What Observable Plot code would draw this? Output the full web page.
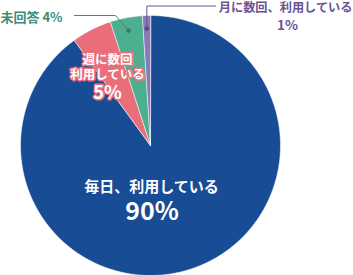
<!DOCTYPE html>
<html><head><meta charset="utf-8">
<script src="https://cdn.jsdelivr.net/npm/d3@7"></script>
<script src="https://cdn.jsdelivr.net/npm/@observablehq/plot@0.6"></script>
<style>body{margin:0;background:#fff} svg{display:block}</style>
</head><body><div id="chart"></div>
<script>
const categories = ["毎日、利用している", "週に数回利用している", "未回答", "月に数回、利用している"];
const values = [90, 5, 4, 1];
const labelLines = [["毎日、利用している"], ["週に数回", "利用している"], ["未回答"], ["月に数回、利用している"]];
const pctLabels = values.map(v => v + "%");

const colors = ["#184c94", "#ea6d7a", "#4daf8f", "#8a79bb"];
const W = 353, H = 275, CX = 150, CY = 145, R = 130;

const pie = d3.pie().sort(null).value(d => d.value);
const arcs = pie(categories.map((c, i) => ({category: c, value: values[i]})));
const polys = [];
arcs.forEach(a => {
  const n = Math.max(3, Math.ceil((a.endAngle - a.startAngle) / 0.01));
  polys.push({category: a.data.category, x: CX, y: CY});
  for (let k = 0; k <= n; k++) {
    const t = a.startAngle + (a.endAngle - a.startAngle) * k / n;
    polys.push({category: a.data.category, x: CX + R * Math.sin(t), y: CY - R * Math.cos(t)});
  }
});
const mid = a => (a.startAngle + a.endAngle) / 2;
const at = (a, f) => ({x: CX + f * R * Math.sin(mid(a)), y: CY - f * R * Math.cos(mid(a))});

// leader dots for small slices
const greenDot = at(arcs[2], 0.9);
const purpleDot = at(arcs[3], 0.9);
const greenLeader = [{x: 74, y: 15}, {x: 115, y: 15}, greenDot];
const purpleLeader = [{x: 215, y: 5.5}, {x: purpleDot.x, y: 5.5}, purpleDot];

const font = "'Noto Sans CJK JP', 'Noto Sans', sans-serif";
const blueTexts = [
  {t: labelLines[0][0], x: 151, y: 186.5},
];
const bluePct = [{t: pctLabels[0], x: 151.5, y: 211}];
const pinkTexts = [
  {t: labelLines[1][0], x: 107, y: 59},
  {t: labelLines[1][1], x: 107, y: 74.5},
];
const pinkPct = [{t: pctLabels[1], x: 107, y: 93}];

const plot = Plot.plot({
  width: W, height: H, margin: 0,
  style: {fontFamily: font, background: "#fff"},
  x: {domain: [0, W], range: [0, W], axis: null},
  y: {domain: [0, H], range: [0, H], axis: null},
  color: {domain: categories, range: colors},
  marks: [
    Plot.line(polys, {x: "x", y: "y", z: "category", fill: "category", stroke: "#ffffff", strokeWidth: 0.7, strokeOpacity: 0.8, curve: "linear-closed"}),
    Plot.line(greenLeader, {x: "x", y: "y", stroke: "#3f8e77", strokeWidth: 1}),
    Plot.line(purpleLeader, {x: "x", y: "y", stroke: "#6c5294", strokeWidth: 1}),
    Plot.dot([greenDot], {x: "x", y: "y", r: 2.4, fill: "#357f6a"}),
    Plot.dot([purpleDot], {x: "x", y: "y", r: 2.4, fill: "#5f4787"}),
    Plot.text(blueTexts, {x: "x", y: "y", text: "t", fill: "#fff", fontSize: 15, fontWeight: "bold"}),
    Plot.text(bluePct, {x: "x", y: "y", text: "t", fill: "#fff", fontSize: 25, fontWeight: "bold"}),
    Plot.text(pinkTexts, {x: "x", y: "y", text: "t", fill: "#fff", stroke: "#e9707c", strokeWidth: 3, fontSize: 12.5, fontWeight: "bold"}),
    Plot.text(pinkPct, {x: "x", y: "y", text: "t", fill: "#fff", stroke: "#e9707c", strokeWidth: 3, fontSize: 18.5, fontWeight: "bold"}),
    Plot.text([labelLines[2][0] + " " + pctLabels[2]], {x: 0, y: 17, text: d => d, textAnchor: "start", fill: "#3f8e77", fontSize: 13, fontWeight: "bold"}),
    Plot.text([labelLines[3][0]], {x: 352, y: 8, text: d => d, textAnchor: "end", fill: "#6c5294", fontSize: 12.2, fontWeight: "bold"}),
    Plot.text([pctLabels[3]], {x: 287, y: 25.5, text: d => d, fill: "#6c5294", fontSize: 13.5, fontWeight: "bold"}),
  ]
});
document.getElementById("chart").appendChild(plot);
</script>
</body></html>
